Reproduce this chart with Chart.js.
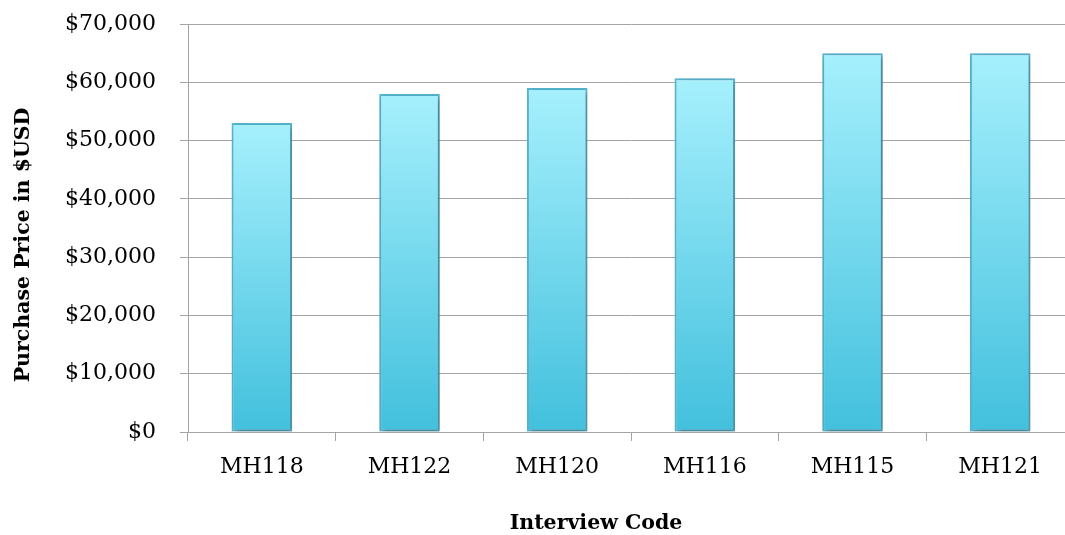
<!DOCTYPE html>
<html>
<head>
<meta charset="utf-8">
<script src="https://cdn.jsdelivr.net/npm/chart.js@4/dist/chart.umd.min.js"></script>
<style>
  html, body { margin: 0; padding: 0; background: #ffffff; overflow: hidden; }
  #wrap { width: 1065px; height: 535px; overflow: hidden; }
  canvas { display: block; }
</style>
</head>
<body>
<div id="wrap"><canvas id="c" width="1090" height="535"></canvas></div>
<script>
// Purchase price per interview
const interviewCodes = ['MH118', 'MH122', 'MH120', 'MH116', 'MH115', 'MH121'];
const purchasePrices = [53000, 58000, 59000, 60700, 65000, 65000];
const yTickValues = [0, 10000, 20000, 30000, 40000, 50000, 60000, 70000];

const yTitle = 'Purchase Price in $USD';
const xTitle = 'Interview Code';

const FONT = '"DejaVu Serif", "Liberation Serif", serif';
const GRID = '#a4a4a4';

function barGradient(ctx) {
  const chart = ctx.chart;
  if (!chart.chartArea || ctx.raw === undefined) return '#7fdaef';
  const ys = chart.scales.y;
  const top = ys.getPixelForValue(ctx.raw);
  const bottom = ys.getPixelForValue(0);
  const g = chart.ctx.createLinearGradient(0, top, 0, bottom);
  g.addColorStop(0, '#a6f0fd');
  g.addColorStop(1, '#42c0dd');
  return g;
}

// Soft drop shadow behind the bars
const barShadow = {
  id: 'barShadow',
  beforeDatasetsDraw(chart) {
    const c = chart.ctx;
    c.save();
    c.shadowColor = 'rgba(0,0,0,0.35)';
    c.shadowBlur = 6;
    c.shadowOffsetX = 2;
    c.shadowOffsetY = 2;
  },
  afterDatasetsDraw(chart) {
    chart.ctx.restore();
  }
};

// Axis titles
const axisTitles = {
  id: 'axisTitles',
  afterDraw(chart) {
    const c = chart.ctx;
    c.save();
    c.fillStyle = '#000000';
    c.font = 'bold 20.5px ' + FONT;
    c.textAlign = 'center';
    c.textBaseline = 'middle';
    c.fillText(xTitle, 596, 524);
    c.translate(24, 245);
    c.rotate(-Math.PI / 2);
    c.fillText(yTitle, 0, 0);
    c.restore();
  }
};

new Chart(document.getElementById('c'), {
  type: 'bar',
  data: {
    labels: interviewCodes,
    datasets: [{
      data: purchasePrices,
      backgroundColor: barGradient,
      borderColor: '#58b9d4',
      borderWidth: 2,
      borderSkipped: false,
      barPercentage: 0.41,
      categoryPercentage: 1
    }]
  },
  options: {
    responsive: false,
    devicePixelRatio: 1,
    animation: false,
    events: [],
    layout: { padding: { top: 24, right: 16, left: 0, bottom: 0 } },
    plugins: { legend: { display: false }, tooltip: { enabled: false } },
    scales: {
      x: {
        offset: true,
        grid: {
          offset: true,
          drawOnChartArea: false,
          drawTicks: true,
          tickLength: 9,
          color: GRID,
          lineWidth: 1
        },
        border: { display: true, color: GRID, width: 1 },
        ticks: {
          color: '#000000',
          font: { family: FONT, size: 22 },
          padding: 13,
          maxRotation: 0
        },
        afterFit(scale) {
          scale.height = 103;
          scale.paddingLeft = 0;
          scale.paddingRight = 0;
        }
      },
      y: {
        min: 0,
        max: 70000,
        afterBuildTicks(scale) { scale.ticks = yTickValues.map(v => ({ value: v })); },
        grid: {
          color: GRID,
          lineWidth: 1,
          drawTicks: true,
          tickLength: 8
        },
        border: { display: true, color: GRID, width: 1 },
        ticks: {
          color: '#000000',
          font: { family: FONT, size: 22 },
          padding: 24,
          callback: v => '$' + Number(v).toLocaleString('en-US')
        },
        afterFit(scale) {
          scale.width = 188;
          scale.paddingTop = 0;
          scale.paddingBottom = 0;
        }
      }
    }
  },
  plugins: [barShadow, axisTitles]
});
</script>
</body>
</html>
